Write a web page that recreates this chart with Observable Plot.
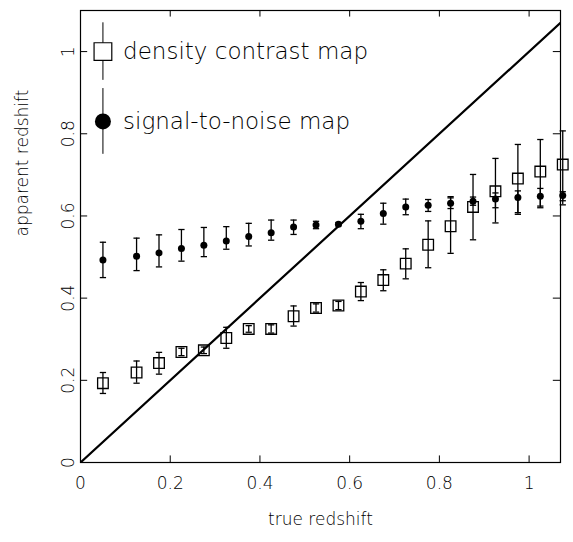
<!DOCTYPE html>
<html><head><meta charset="utf-8">
<script src="https://cdn.jsdelivr.net/npm/d3@7"></script>
<script src="https://cdn.jsdelivr.net/npm/@observablehq/plot@0.6"></script>
<style>body{margin:0;background:#fff}</style>
</head><body><div id="chart"></div>
<script>
// true redshift of each bin
const zTrue = [0.05,0.125,0.175,0.225,0.275,0.325,0.375,0.425,0.475,0.525,0.575,0.625,0.675,0.725,0.775,0.825,0.875,0.925,0.975,1.025,1.075];
// signal-to-noise map
const snMid = [0.493,0.502,0.51,0.521,0.529,0.539,0.55,0.559,0.573,0.578,0.58,0.587,0.606,0.622,0.626,0.631,0.636,0.641,0.645,0.648,0.65];
const snLo  = [0.45,0.467,0.476,0.49,0.501,0.519,0.527,0.541,0.555,0.569,0.576,0.569,0.58,0.603,0.611,0.618,0.626,0.62,0.604,0.62,0.627];
const snHi  = [0.536,0.546,0.554,0.567,0.572,0.574,0.582,0.59,0.59,0.587,0.584,0.604,0.631,0.641,0.64,0.644,0.646,0.656,0.661,0.667,0.659];
// density contrast map
const dcMid = [0.193,0.219,0.242,0.269,0.273,0.303,0.325,0.325,0.356,0.376,0.382,0.416,0.444,0.484,0.53,0.575,0.622,0.66,0.691,0.708,0.725];
const dcLo  = [0.168,0.193,0.215,0.26,0.265,0.278,0.317,0.315,0.332,0.366,0.372,0.394,0.418,0.447,0.474,0.509,0.542,0.583,0.608,0.624,0.637];
const dcHi  = [0.219,0.247,0.268,0.278,0.281,0.329,0.333,0.335,0.381,0.386,0.392,0.438,0.469,0.52,0.588,0.647,0.701,0.74,0.774,0.786,0.807];
const ticks = [0,0.2,0.4,0.6,0.8,1];
const legendLabels = ["density contrast map","signal-to-noise map"];

const sn = zTrue.map((x,i)=>({x, y:snMid[i], lo:snLo[i], hi:snHi[i]}));
const dc = zTrue.map((x,i)=>({x, y:dcMid[i], lo:dcLo[i], hi:dcHi[i]}));
const cap = 0.007;
const bars = (d) => [
  Plot.ruleX(d,{x:"x",y1:"lo",y2:"hi",stroke:"#000",strokeWidth:1.3}),
  Plot.link(d,{x1:d=>d.x-cap,x2:d=>d.x+cap,y1:"lo",y2:"lo",stroke:"#000",strokeWidth:1.3}),
  Plot.link(d,{x1:d=>d.x-cap,x2:d=>d.x+cap,y1:"hi",y2:"hi",stroke:"#000",strokeWidth:1.3})
];
const leg = [{x:0.05,y:1.0,lo:0.93,hi:1.07,label:legendLabels[0]},{x:0.05,y:0.83,lo:0.75,hi:0.91,label:legendLabels[1]}];
const fmt = d => d===0||d===1 ? String(d) : d3.format(".1f")(d);

const chart = Plot.plot({
  width:573, height:542,
  marginLeft:80, marginTop:10, marginRight:13, marginBottom:80,
  style:{fontFamily:"DejaVu Sans", fontSize:"17px", color:"#000", background:"#fff"},
  x:{domain:[0,1.07]},
  y:{domain:[0,1.1]},
  marks:[
    Plot.frame({stroke:"#000",strokeWidth:1.2}),
    Plot.axisX({ticks, tickSize:0, tickPadding:14, tickFormat:fmt, fill:"#000", fontWeight:300, label:null}),
    Plot.axisY({ticks, tickSize:0, tickPadding:12, rotate:-90, textAnchor:"middle", tickFormat:fmt, fill:"#000", fontWeight:300, label:null}),
    Plot.text(["true redshift"],{frameAnchor:"bottom", dy:62, fill:"#000", fontWeight:300, fontSize:17}),
    Plot.text(["apparent redshift"],{frameAnchor:"left", dx:-58, rotate:-90, fill:"#000", fontWeight:300, fontSize:17}),
    Plot.ruleX(ticks,{x:d=>d, y1:0, y2:0.016, stroke:"#000"}),
    Plot.ruleX(ticks,{x:d=>d, y1:1.1-0.016, y2:1.1, stroke:"#000"}),
    Plot.ruleY(ticks,{y:d=>d, x1:0, x2:0.016, stroke:"#000"}),
    Plot.ruleY(ticks,{y:d=>d, x1:1.07-0.016, x2:1.07, stroke:"#000"}),
    Plot.line([[0,0],[1.1,1.1]],{x:d=>d[0],y:d=>d[1],stroke:"#000",strokeWidth:2.2,clip:true}),
    ...bars(sn),
    Plot.dot(sn,{x:"x",y:"y",r:3.5,fill:"#000"}),
    ...bars(dc),
    Plot.dot(dc,{x:"x",y:"y",symbol:"square",r:6,fill:"none",stroke:"#000",strokeWidth:1.3}),
    Plot.ruleX(leg,{x:"x",y1:"lo",y2:"hi",stroke:"#000"}),
    Plot.dot([leg[0]],{x:"x",y:"y",symbol:"square",r:10,fill:"#fff",stroke:"#000",strokeWidth:1.2}),
    Plot.dot([leg[1]],{x:"x",y:"y",r:8,fill:"#000"}),
    Plot.text(leg,{x:0.095,y:"y",text:"label",textAnchor:"start",fontSize:23,fontWeight:300,fill:"#000"})
  ]
});
document.getElementById("chart").append(chart);
</script></body></html>
